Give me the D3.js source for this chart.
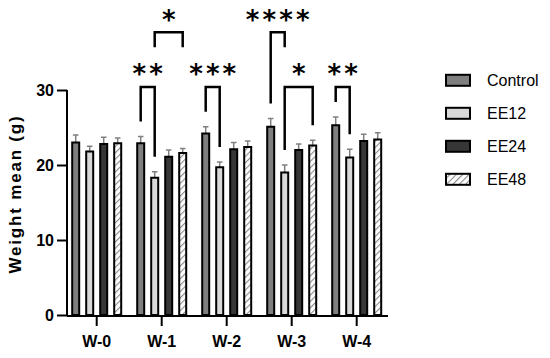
<!DOCTYPE html>
<html>
<head>
<meta charset="utf-8">
<script src="https://cdn.jsdelivr.net/npm/d3@7"></script>
<style>
  body { margin: 0; background: #fff; }
  svg { display: block; font-family: "Liberation Sans", Arial, sans-serif; }
</style>
</head>
<body>
<svg id="chart" width="550" height="358"></svg>
<script>
var weeks = ["W-0", "W-1", "W-2", "W-3", "W-4"];
var groups = ["Control", "EE12", "EE24", "EE48"];
// mean weight (g) per week, one array per group
var means = {
    "Control": [23.0, 22.9, 24.2, 25.1, 25.3],
    "EE12":    [21.8, 18.3, 19.7, 19.0, 21.0],
    "EE24":    [22.8, 21.1, 22.1, 22.0, 23.2],
    "EE48":    [22.9, 21.6, 22.4, 22.6, 23.4]
};
var errs = {
    "Control": [1.0, 0.9, 0.9, 1.1, 1.1],
    "EE12":    [0.7, 0.8, 0.7, 1.0, 1.1],
    "EE24":    [0.9, 0.9, 0.9, 0.8, 0.9],
    "EE48":    [0.7, 0.6, 0.8, 0.7, 0.9]
};
var yTicks = [0, 10, 20, 30];
// significance brackets: week, from group, to group, level (g), label, short legs
var sig = [
    {week: "W-1", a: "Control", b: "EE12", level: 30.4, label: "**",   shortA: false, shortB: false},
    {week: "W-1", a: "EE12",    b: "EE48", level: 37.7, label: "*",    shortA: true,  shortB: true},
    {week: "W-2", a: "Control", b: "EE12", level: 30.4, label: "***",  shortA: false, shortB: false},
    {week: "W-3", a: "Control", b: "EE12", level: 37.7, label: "****", shortA: false, shortB: true},
    {week: "W-3", a: "EE12",    b: "EE48", level: 30.4, label: "*",    shortA: false, shortB: false},
    {week: "W-4", a: "Control", b: "EE12", level: 30.4, label: "**",   shortA: false, shortB: false}
];

var fills = {"Control": "#7f7f7f", "EE12": "#d9d9d9", "EE24": "#363636", "EE48": "url(#hatch)"};

var svg = d3.select("#chart");

var defs = svg.append("defs");
var pat = defs.append("pattern")
    .attr("id", "hatch")
    .attr("patternUnits", "userSpaceOnUse")
    .attr("width", 4.5).attr("height", 4.5)
    .attr("patternTransform", "rotate(45)");
pat.append("rect").attr("width", 4.5).attr("height", 4.5).attr("fill", "#fff");
pat.append("line")
    .attr("x1", 0).attr("y1", 0).attr("x2", 0).attr("y2", 4.5)
    .attr("stroke", "#8a8a8a").attr("stroke-width", 2.2);

var y = d3.scaleLinear().domain([0, 30]).range([315, 90]);
var x = d3.scaleBand().domain(weeks).range([64.2, 389.2]);
var xs = d3.scaleBand().domain(groups).range([-28, 28]).paddingInner(0.5).paddingOuter(0.25);

function cx(week, g) {
    return x(week) + x.bandwidth() / 2 + xs(g) + xs.bandwidth() / 2;
}

// bars
var g = svg.append("g");
groups.forEach(grp => {
    weeks.forEach((w, i) => {
        let v = means[grp][i], e = errs[grp][i];
        let bx = cx(w, grp);
        g.append("line")
            .attr("x1", bx).attr("x2", bx)
            .attr("y1", y(v)).attr("y2", y(v + e))
            .attr("stroke", "#808080").attr("stroke-width", 1.5);
        g.append("line")
            .attr("x1", bx - 2.8).attr("x2", bx + 2.8)
            .attr("y1", y(v + e)).attr("y2", y(v + e))
            .attr("stroke", "#808080").attr("stroke-width", 1.5);
        g.append("rect")
            .attr("x", bx - xs.bandwidth() / 2)
            .attr("y", y(v))
            .attr("width", xs.bandwidth())
            .attr("height", y(0) - y(v))
            .attr("fill", fills[grp])
            .attr("stroke", "#000")
            .attr("stroke-width", 2);
    });
});

// axes
var yAxis = svg.append("g")
    .attr("transform", "translate(67,0)")
    .call(d3.axisLeft(y).tickValues(yTicks).tickSize(10).tickPadding(3));
var xAxis = svg.append("g")
    .attr("transform", "translate(0,316)")
    .call(d3.axisBottom(x).tickSize(10).tickPadding(10).tickSizeOuter(0));
xAxis.select(".domain").attr("d", "M67,0H388");
yAxis.select(".domain").attr("d", "M0," + y(30) + "V" + 316);
[xAxis, yAxis].forEach(a => {
    a.selectAll(".domain, line").attr("stroke", "#000").attr("stroke-width", 2);
    a.selectAll("text")
        .attr("fill", "#000")
        .style("font-family", "'Liberation Sans', Arial, sans-serif")
        .style("font-weight", "bold")
        .style("font-size", "16px");
});

svg.append("text")
    .attr("transform", "translate(21,194) rotate(-90)")
    .attr("text-anchor", "middle")
    .style("font-weight", "bold")
    .style("font-size", "17px")
    .style("letter-spacing", "1.8px")
    .text("Weight mean (g)");

// significance brackets
var legGap = 2;
var starSize = 26;
sig.forEach(s => {
    let i = weeks.indexOf(s.week);
    let xa = cx(s.week, s.a), xb = cx(s.week, s.b);
    let ya = s.shortA ? s.level - legGap : means[s.a][i] + errs[s.a][i] + legGap;
    let yb = s.shortB ? s.level - legGap : means[s.b][i] + errs[s.b][i] + legGap;
    svg.append("path")
        .attr("d", "M" + xa + "," + y(ya) + "V" + y(s.level) + "H" + xb + "V" + y(yb))
        .attr("fill", "none")
        .attr("stroke", "#000")
        .attr("stroke-width", 2.5);
    let n = s.label.length, pitch = 16.7, mid = (xa + xb) / 2;
    for (let k = 0; k < n; k++) {
        svg.append("text")
            .attr("x", mid + (k - (n - 1) / 2) * pitch)
            .attr("y", y(s.level) - 19 + 0.59 * starSize)
            .attr("text-anchor", "middle")
            .style("font-family", "'DejaVu Sans', sans-serif")
            .style("font-weight", "bold")
            .style("font-size", starSize + "px")
            .text("*");
    }
});

// legend
var leg = svg.append("g");
groups.forEach((grp, i) => {
    let ly = 80.3 + i * 33;
    leg.append("rect")
        .attr("x", 446).attr("y", ly - 5.5)
        .attr("width", 24).attr("height", 11)
        .attr("fill", fills[grp])
        .attr("stroke", "#000").attr("stroke-width", 2);
    leg.append("text")
        .attr("x", 487).attr("y", ly)
        .attr("dy", "0.35em")
        .style("font-size", "16px")
        .text(grp);
});
</script>
</body>
</html>
